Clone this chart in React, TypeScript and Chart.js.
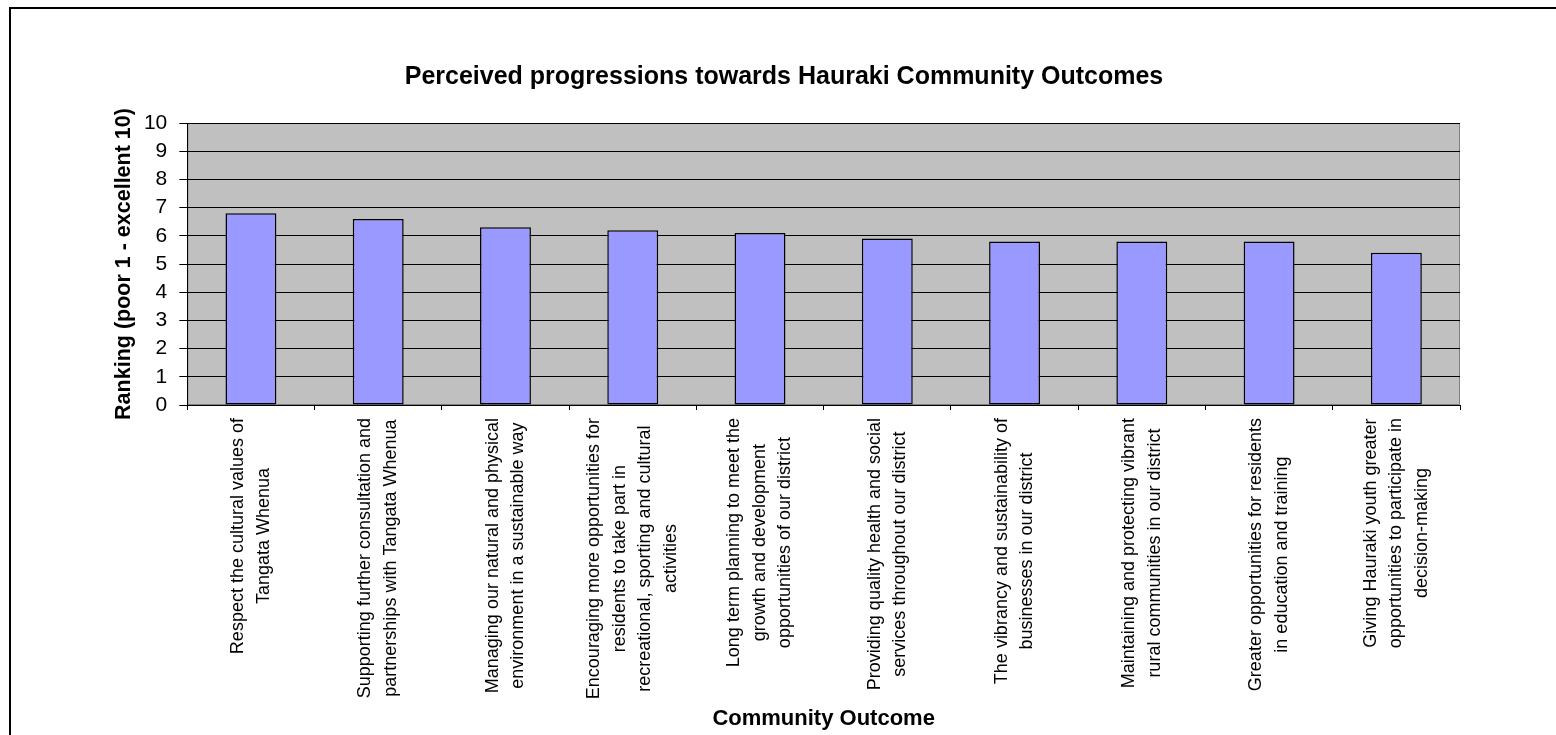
import React, { useEffect, useRef } from "react";
import { Chart, registerables } from "chart.js";

Chart.register(...registerables);

const chartTitle = "Perceived progressions towards Hauraki Community Outcomes";
const xAxisTitle = "Community Outcome";
const yAxisTitle = "Ranking (poor 1 - excellent 10)";

const categoryLines: string[][] = [
  ["Respect the cultural values of", "Tangata Whenua"],
  ["Supporting further consultation and", "partnerships with Tangata Whenua"],
  ["Managing our natural and physical", "environment in a sustainable way"],
  [
    "Encouraging more opportunities for",
    "residents to take part in",
    "recreational, sporting and cultural",
    "activities",
  ],
  ["Long term planning to meet the", "growth and development", "opportunities of our district"],
  ["Providing quality health and social", "services throughout our district"],
  ["The vibrancy and sustainability of", "businesses in our district"],
  ["Maintaining and protecting vibrant", "rural communities in our district"],
  ["Greater opportunities for residents", "in education and training"],
  ["Giving Hauraki youth greater", "opportunities to participate in", "decision-making"],
];

const rankings: number[] = [6.8, 6.6, 6.3, 6.2, 6.1, 5.9, 5.8, 5.8, 5.8, 5.4];

const yMin = 0;
const yMax = 10;
const yStep = 1;

const FONT = "'Liberation Sans', Arial, Helvetica, sans-serif";

const plotBackground = {
  id: "plotBackground",
  beforeDraw(chart: any) {
    const { ctx, chartArea: a } = chart;
    ctx.save();
    ctx.fillStyle = "#C0C0C0";
    ctx.fillRect(a.left, a.top, a.right - a.left, a.bottom - a.top);
    ctx.strokeStyle = "#808080";
    ctx.lineWidth = 1;
    ctx.strokeRect(a.left + 0.5, a.top + 0.5, a.right - a.left - 1, a.bottom - a.top - 1);
    ctx.restore();
  },
};

const categoryLabels = {
  id: "categoryLabels",
  afterDraw(chart: any) {
    const xs = chart.scales.x;
    const ctx = chart.ctx;
    ctx.save();
    ctx.font = `18px ${FONT}`;
    ctx.fillStyle = "#000";
    ctx.textAlign = "center";
    ctx.textBaseline = "middle";
    const lh = 25.5;
    const top = chart.chartArea.bottom + 13;
    categoryLines.forEach((lines, i) => {
      const cx = xs.getPixelForValue(i);
      const w = Math.max(...lines.map((l) => ctx.measureText(l).width));
      const cy = top + w / 2;
      ctx.save();
      ctx.translate(cx, cy);
      ctx.rotate(-Math.PI / 2);
      lines.forEach((l, j) => {
        ctx.fillText(l, 0, (j - (lines.length - 1) / 2) * lh);
      });
      ctx.restore();
    });
    ctx.restore();
  },
};

export default function App() {
  const ref = useRef<HTMLCanvasElement | null>(null);

  useEffect(() => {
    if (!ref.current) return;
    const chart = new Chart(ref.current, {
      type: "bar",
      data: {
        labels: categoryLines.map((l) => l.join(" ")),
        datasets: [
          {
            data: rankings,
            backgroundColor: "#9999FF",
            borderColor: "#000000",
            borderWidth: 1.5,
            borderSkipped: false,
            barPercentage: 0.4,
            categoryPercentage: 1,
          },
        ],
      },
      options: {
        responsive: false,
        animation: false,
        events: [],
        layout: { padding: { left: 108, right: 96, top: 0, bottom: 0 } },
        plugins: {
          legend: { display: false },
          tooltip: { enabled: false },
          title: {
            display: true,
            text: chartTitle,
            color: "#000",
            font: { family: FONT, size: 25, weight: "bold" },
            padding: { top: 62, bottom: 31 },
          },
        },
        scales: {
          x: {
            type: "category",
            offset: true,
            grid: {
              display: true,
              drawOnChartArea: false,
              drawTicks: true,
              tickLength: 5,
              color: "#000",
              offset: true,
            },
            border: { display: true, color: "#000" },
            ticks: { display: false },
            title: {
              display: true,
              text: xAxisTitle,
              color: "#000",
              font: { family: FONT, size: 22, weight: "bold" },
              padding: { top: 0, bottom: 3 },
            },
            afterFit(s: any) {
              s.height = 330;
            },
          },
          y: {
            min: yMin,
            max: yMax,
            ticks: {
              stepSize: yStep,
              color: "#000",
              font: { family: FONT, size: 21 },
              padding: 12,
            },
            grid: { color: "#000", tickLength: 8, drawTicks: true },
            border: { display: true, color: "#000" },
            title: {
              display: true,
              text: yAxisTitle,
              color: "#000",
              font: { family: FONT, size: 21.5, weight: "bold" },
              padding: { top: 3, bottom: 0 },
            },
            afterFit(s: any) {
              s.width = 79.3;
            },
          },
        },
      },
      plugins: [plotBackground, categoryLabels],
    } as any);
    return () => chart.destroy();
  }, []);

  return (
    <div
      style={{
        position: "fixed",
        left: 0,
        top: 0,
        width: 1556,
        height: 735,
        overflow: "hidden",
        background: "#fff",
      }}
    >
      <div
        style={{
          position: "absolute",
          left: 9,
          top: 7,
          width: 1600,
          height: 800,
          border: "2px solid #000",
          boxSizing: "border-box",
        }}
      />
      <canvas
        ref={ref}
        width={1556}
        height={735}
        style={{ position: "absolute", left: 0, top: 0, width: 1556, height: 735 }}
      />
    </div>
  );
}
